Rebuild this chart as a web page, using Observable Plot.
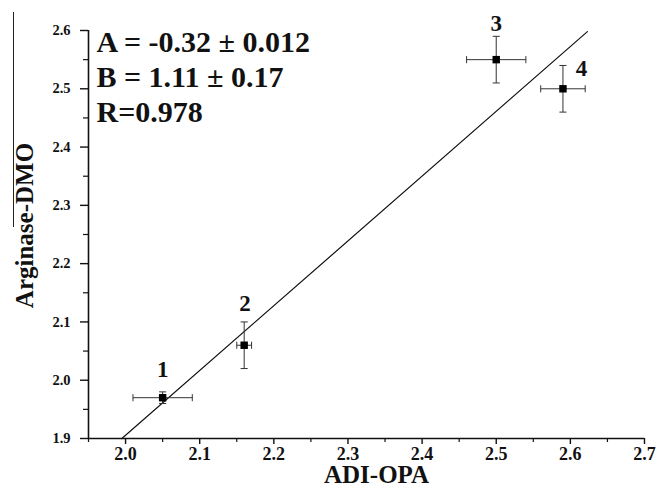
<!DOCTYPE html>
<html>
<head>
<meta charset="utf-8">
<script src="https://cdn.jsdelivr.net/npm/d3@7"></script>
<script src="https://cdn.jsdelivr.net/npm/@observablehq/plot@0.6"></script>
<style>
  body { margin: 0; background: #fff; }
  #wrap { position: relative; width: 658px; height: 495px; }
  #edge { position: absolute; left: 13px; top: 12px; height: 215px; border-left: 1px solid #222; }
</style>
</head>
<body>
<div id="wrap"><div id="edge"></div></div>
<script>
// data
const ids = ["1", "2", "3", "4"];
const adiOpa = [2.05, 2.16, 2.50, 2.59];
const adiErr = [0.04, 0.01, 0.04, 0.03];
const argDmo = [1.97, 2.06, 2.55, 2.50];
const argErr = [0.01, 0.04, 0.04, 0.04];
const labelX = [2.05, 2.161, 2.50, 2.615];
const labelY = [2.019, 2.131, 2.612, 2.534];
const fitX = [1.995, 2.623];
const fitY = [1.90, 2.598];
const xTicks = [2.0, 2.1, 2.2, 2.3, 2.4, 2.5, 2.6, 2.7];
const xMinor = [1.95, 2.05, 2.15, 2.25, 2.35, 2.45, 2.55, 2.65];
const yTicks = [1.9, 2.0, 2.1, 2.2, 2.3, 2.4, 2.5, 2.6];
const yMinor = [1.95, 2.05, 2.15, 2.25, 2.35, 2.45, 2.55];
const fitText = "A = -0.32 ± 0.012\nB = 1.11 ± 0.17\nR=0.978";
const xLabel = "ADI-OPA";
const yLabel = "Arginase-DMO";

const pts = ids.map((id, i) => ({
  id, x: adiOpa[i], y: argDmo[i], ex: adiErr[i], ey: argErr[i], lx: labelX[i], ly: labelY[i]
}));
const fit = fitX.map((x, i) => ({x, y: fitY[i]}));

const vCap = {draw(ctx, size) { const r = Math.sqrt(size) / 2; ctx.moveTo(0, -r); ctx.lineTo(0, r); }};
const hCap = {draw(ctx, size) { const r = Math.sqrt(size) / 2; ctx.moveTo(-r, 0); ctx.lineTo(r, 0); }};
const capR = 4;
const font = "'Liberation Serif', 'Times New Roman', serif";
const barColor = "#333";
const fmt = d3.format(".1f");

const chart = Plot.plot({
  width: 658,
  height: 495,
  marginLeft: 88,
  marginRight: 14,
  marginTop: 30,
  marginBottom: 57,
  style: {fontFamily: font, fontWeight: "bold", background: "white", color: "#111"},
  x: {domain: [1.95, 2.7]},
  y: {domain: [1.9, 2.6]},
  marks: [
    Plot.axisX({ticks: xTicks, tickSize: 6, tickFormat: () => "", label: null, strokeWidth: 1.4}),
    Plot.axisX({ticks: xMinor, tickSize: 4, tickFormat: () => "", label: null, strokeWidth: 1.2}),
    Plot.axisY({ticks: yTicks, tickSize: 8, tickFormat: () => "", label: null, strokeWidth: 1.4}),
    Plot.axisY({ticks: yMinor, tickSize: 5, tickFormat: () => "", label: null, strokeWidth: 1.2}),
    Plot.text(xTicks, {x: d => d, frameAnchor: "bottom", dy: 21, text: fmt, fontSize: 18, fontWeight: "bold", fill: "#111"}),
    Plot.text(yTicks, {y: d => d, frameAnchor: "left", textAnchor: "end", dx: -18, text: fmt, fontSize: 14.5, fontWeight: "bold", fill: "#111"}),
    Plot.ruleY([1.9], {stroke: "#111", strokeWidth: 1.6}),
    Plot.ruleX([1.95], {stroke: "#111", strokeWidth: 1.6}),
    Plot.line(fit, {x: "x", y: "y", stroke: "#111", strokeWidth: 1.2}),
    // error bars
    Plot.link(pts, {x1: d => d.x - d.ex, x2: d => d.x + d.ex, y1: "y", y2: "y", stroke: barColor, strokeWidth: 1}),
    Plot.link(pts, {x1: "x", x2: "x", y1: d => d.y - d.ey, y2: d => d.y + d.ey, stroke: barColor, strokeWidth: 1}),
    Plot.dot(pts, {x: d => d.x - d.ex, y: "y", symbol: vCap, r: capR, stroke: barColor, fill: "none", strokeWidth: 1}),
    Plot.dot(pts, {x: d => d.x + d.ex, y: "y", symbol: vCap, r: capR, stroke: barColor, fill: "none", strokeWidth: 1}),
    Plot.dot(pts, {x: "x", y: d => d.y - d.ey, symbol: hCap, r: capR, stroke: barColor, fill: "none", strokeWidth: 1}),
    Plot.dot(pts, {x: "x", y: d => d.y + d.ey, symbol: hCap, r: capR, stroke: barColor, fill: "none", strokeWidth: 1}),
    Plot.dot(pts, {x: "x", y: "y", symbol: "square", r: 4.2, fill: "#000", stroke: "none"}),
    Plot.text(pts, {x: "lx", y: "ly", text: "id", fontSize: 23, fontWeight: "bold", fill: "#111"}),
    Plot.text([fitText], {frameAnchor: "top-left", dx: 8, dy: -3, lineAnchor: "top", textAnchor: "start", fontSize: 30, lineHeight: 1.167, fontWeight: "bold", fill: "#111"}),
    Plot.text([xLabel], {frameAnchor: "bottom", textAnchor: "middle", dx: 10, dy: 44, fontSize: 25, fontWeight: "bold", fill: "#111"}),
    Plot.text([yLabel], {frameAnchor: "left", textAnchor: "middle", rotate: -90, dx: -64, dy: -9, fontSize: 25, fontWeight: "bold", fill: "#111"})
  ]
});
document.getElementById("wrap").prepend(chart);
</script>
</body>
</html>
